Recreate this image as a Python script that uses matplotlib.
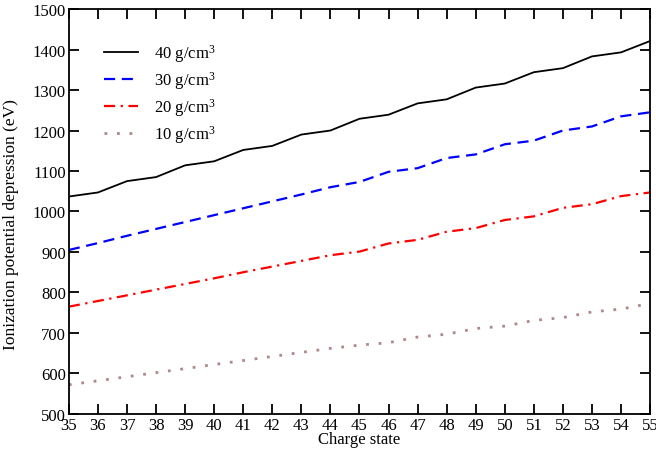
import numpy as np
import matplotlib
matplotlib.use("Agg")
import matplotlib.pyplot as plt

plt.rcParams['font.family'] = ['Liberation Serif', 'DejaVu Serif']
plt.rcParams['mathtext.fontset'] = 'custom'
plt.rcParams['mathtext.rm'] = 'Liberation Serif'
plt.rcParams['mathtext.default'] = 'regular'

# charge states
carga = np.arange(35, 56)

# densidades (g/cm3) y depresion del potencial (eV)
d40 = [1037, 1047, 1075, 1085, 1114, 1124, 1152, 1162, 1190, 1200, 1229,
       1239, 1267, 1277, 1306, 1316, 1344, 1354, 1383, 1393, 1421]
d30 = [905, 922, 940, 957, 974, 991, 1008, 1025, 1042, 1060, 1073,
       1098, 1107, 1132, 1141, 1166, 1175, 1200, 1210, 1235, 1245]
d20 = [765, 779, 793, 807, 821, 835, 850, 864, 878, 892, 901,
       921, 930, 950, 959, 979, 988, 1009, 1018, 1038, 1047]
d10 = [572, 582, 592, 602, 612, 622, 632, 642, 652, 662, 670,
       676, 690, 697, 711, 717, 731, 738, 752, 759, 773]

etiquetas = ["40 g/cm$^{3}$", "30 g/cm$^{3}$", "20 g/cm$^{3}$", "10 g/cm$^{3}$"]

fig = plt.figure(figsize=(6.56, 4.56), dpi=100)
ax = fig.add_axes([0.105, 0.09, 0.886, 0.888])

ax.plot(carga, d40, color='black', lw=1.3, ls='-', label=etiquetas[0])
ax.plot(carga, d30, color='blue', lw=1.6, ls=(0, (5, 3)), label=etiquetas[1])
ax.plot(carga, d20, color='red', lw=1.6, ls=(0, (5, 2.5, 1, 2.5)), label=etiquetas[2])
ax.plot(carga, d10, color='#b08888', lw=2, ls=(0, (1, 3.5)), label=etiquetas[3])

ax.set_xlim(35, 55)
ax.set_ylim(500, 1500)
ax.set_xticks(np.arange(35, 56))
ax.set_yticks(np.arange(500, 1501, 100))
ax.tick_params(direction='in', length=7, width=1.3, top=True, right=True,
               labelsize=12, pad=2)
for s in ax.spines.values():
    s.set_linewidth(1.3)

ax.set_xlabel("Charge state", fontsize=12, labelpad=-1)
ax.set_ylabel("Ionization potential depression (eV)", fontsize=12.5, labelpad=2)
ax.yaxis.set_label_coords(-0.085, 0.47)

ax.legend(loc='upper left', frameon=False, fontsize=12, handlelength=2.0,
          handletextpad=1.0, labelspacing=0.3, bbox_to_anchor=(0.035, 0.955))

fig.savefig("out.png", dpi=100)
